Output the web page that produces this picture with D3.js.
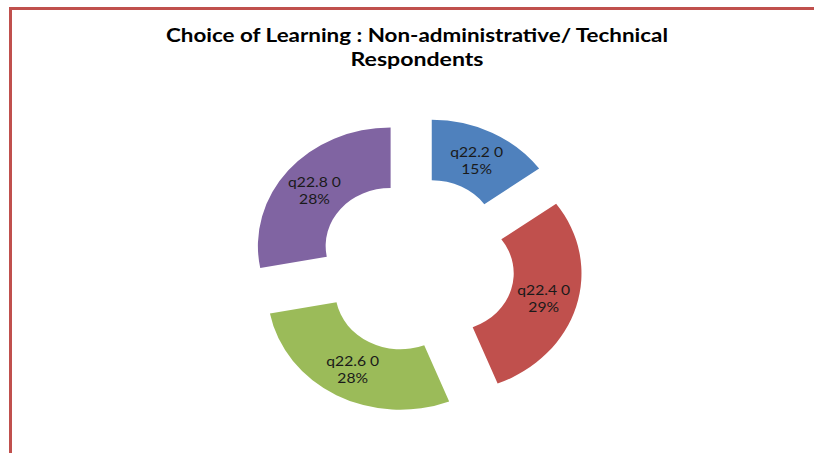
<!DOCTYPE html>
<html>
<head>
<meta charset="utf-8">
<script src="https://cdn.jsdelivr.net/npm/d3@7"></script>
<style>
  body { margin: 0; background: #fff; }
  svg { display: block; }
</style>
</head>
<body>
<svg id="chart" width="814" height="453"></svg>
<script>
const categories = ['q22.2 0', 'q22.4 0', 'q22.6 0', 'q22.8 0']
const values = [15, 29, 28, 28]
const colors = ['#4f81bd', '#c0504d', '#9bbb59', '#8064a2']
const titleLines = ['Choice of Learning : Non-administrative/ Technical', 'Respondents']

const svg = d3.select('#chart')
const width = +svg.attr('width')
const height = +svg.attr('height')

const data = categories.map((name, i) => ({ name, value: values[i], color: colors[i] }))

// frame
svg.append('rect')
    .attr('x', 10.5)
    .attr('y', 8.5)
    .attr('width', width + 20)
    .attr('height', height + 20)
    .attr('fill', '#fff')
    .attr('stroke', '#c0504d')
    .attr('stroke-width', 3)

// title
svg.selectAll('.title')
    .data(titleLines)
    .enter()
    .append('text')
    .attr('class', 'title')
    .attr('x', 417)
    .attr('y', (d, i) => 42 + i * 24)
    .attr('text-anchor', 'middle')
    .attr('font-family', 'Lato, "Open Sans", sans-serif')
    .attr('font-weight', 'bold')
    .attr('font-size', 19.5)
    .attr('fill', '#000')
    .attr('textLength', (d, i) => i === 0 ? 502 : 133)
    .attr('lengthAdjust', 'spacingAndGlyphs')
    .text(d => d)

const cx = 416.5
const cy = 265
const sx = 1.12
const outerR = 118.5
const innerR = 58
const explode = 30

const pie = d3.pie()
    .sort(null)
    .value(d => d.value)

const arc = d3.arc()
    .innerRadius(innerR)
    .outerRadius(outerR)

const arcs = pie(data)
const mid = d => (d.startAngle + d.endAngle) / 2

const g = svg.append('g')
    .attr('transform', `translate(${cx},${cy}) scale(${sx},1)`)

g.selectAll('path')
    .data(arcs)
    .enter()
    .append('path')
    .attr('d', arc)
    .attr('fill', d => d.data.color)
    .attr('transform', d => `translate(${explode * Math.sin(mid(d))},${-explode * Math.cos(mid(d))})`)

// labels, stretched like the chart
const labelR = (outerR + innerR) / 2 + explode
const labels = svg.append('g')
    .attr('font-family', 'Lato, "Open Sans", sans-serif')
    .attr('font-size', 14)
    .attr('fill', '#1a1a1a')
    .attr('text-anchor', 'middle')

const lab = labels.selectAll('text')
    .data(arcs)
    .enter()
    .append('text')
    .attr('transform', d => `translate(${cx + sx * labelR * Math.sin(mid(d))},${cy - labelR * Math.cos(mid(d))}) scale(${sx},1)`)

lab.append('tspan')
    .attr('x', 0)
    .attr('y', -3)
    .text(d => d.data.name)

lab.append('tspan')
    .attr('x', 0)
    .attr('y', 14)
    .text(d => Math.round(d.value / d3.sum(values) * 100) + '%')
</script>
</body>
</html>
